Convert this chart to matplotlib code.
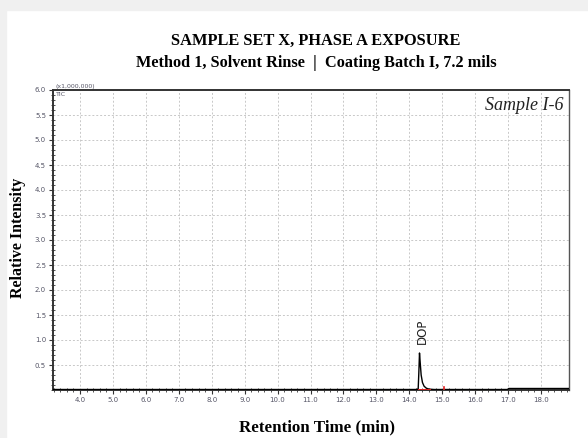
import matplotlib
matplotlib.use("Agg")
import matplotlib.pyplot as plt
from matplotlib.ticker import MultipleLocator, FormatStrFormatter
from matplotlib.patches import Rectangle

# ---- data ----
time_min = [3.18, 14.20, 14.27, 14.29, 14.31, 14.33, 14.36, 14.40, 14.45, 14.52, 14.60, 14.75, 16.98, 17.02, 18.85]
intensity = [0.010, 0.010, 0.020, 0.350, 0.740, 0.560, 0.300, 0.150, 0.075, 0.035, 0.018, 0.010, 0.010, 0.030, 0.030]
integ_time = [14.28, 14.62]
integ_level = [0.010, 0.010]
marker_time = [15.05, 15.05]
marker_level = [0.0, 0.07]
peak_name = "DOP"
peak_time = 14.33
peak_top = 0.74
x_ticks = [4.0, 5.0, 6.0, 7.0, 8.0, 9.0, 10.0, 11.0, 12.0, 13.0, 14.0, 15.0, 16.0, 17.0, 18.0]
y_ticks = [0.5, 1.0, 1.5, 2.0, 2.5, 3.0, 3.5, 4.0, 4.5, 5.0, 5.5, 6.0]

W, H = 588, 438
fig = plt.figure(figsize=(W / 100, H / 100), dpi=100)
fig.patch.set_facecolor("white")
# light gray frame on left and top
fig.add_artist(Rectangle((0, 0), 6 / W, 1, transform=fig.transFigure, color="#f0f0f0", zorder=-5))
fig.add_artist(Rectangle((0, 1 - 10 / H), 1, 10 / H, transform=fig.transFigure, color="#f0f0f0", zorder=-5))

ax = fig.add_axes([53 / W, 1 - 390 / H, (569 - 53) / W, (390 - 90) / H])
ax.set_xlim(3.18, 18.85)
ax.set_ylim(0, 6.0)

ax.plot(time_min, intensity, color="black", lw=1.0, zorder=3)
ax.plot(integ_time, integ_level, color="#e02020", lw=1.4, zorder=4)
ax.plot(marker_time, marker_level, color="#e02020", lw=1.2, zorder=4)

ax.text(peak_time + 0.07, peak_top + 0.18, peak_name, rotation=90, ha="center", va="bottom",
        fontsize=8.5, family="DejaVu Sans", color="#222222")

ax.set_xticks(x_ticks)
ax.set_yticks(y_ticks)
ax.xaxis.set_major_formatter(FormatStrFormatter("%.1f"))
ax.yaxis.set_major_formatter(FormatStrFormatter("%.1f"))
ax.xaxis.set_minor_locator(MultipleLocator(0.2))
ax.yaxis.set_minor_locator(MultipleLocator(0.1))
ax.tick_params(which="major", direction="out", length=3, width=0.8, color="#333333",
               labelsize=5, labelcolor="#555566", pad=2)
ax.tick_params(which="minor", direction="inout", length=2.5, width=0.6, color="#333333")

ax.grid(True, which="major", color="#c8c8c8", linestyle=(0, (2, 2)), lw=0.7)
ax.set_axisbelow(True)
for side in ["left", "bottom", "top"]:
    ax.spines[side].set_linewidth(1.4)
    ax.spines[side].set_color("#333333")
ax.spines["right"].set_linewidth(1.0)
ax.spines["right"].set_color("#555555")

ax.text(0.005, 1.004, "(x1,000,000)", transform=ax.transAxes, fontsize=4.5, color="#555566",
        ha="left", va="bottom")
ax.text(0.005, 0.995, "TIC", transform=ax.transAxes, fontsize=4.5, color="#555566",
        ha="left", va="top")

ax.text(0.99, 0.975, "Sample I-6", transform=ax.transAxes, ha="right", va="top",
        fontsize=13, style="italic", family="Liberation Serif", color="#222222")

fig.text(316 / W, 1 - 41 / H, "SAMPLE SET X, PHASE A EXPOSURE", ha="center", va="center",
         fontsize=11.8, fontweight="bold", family="Liberation Serif")
fig.text(316 / W, 1 - 63 / H, "Method 1, Solvent Rinse  |  Coating Batch I, 7.2 mils", ha="center",
         va="center", fontsize=11.7, fontweight="bold", family="Liberation Serif")
fig.text(18 / W, 1 - 238 / H, "Relative Intensity", rotation=90, ha="center", va="center",
         fontsize=11.5, fontweight="bold", family="Liberation Serif")
fig.text(317 / W, 1 - 427 / H, "Retention Time (min)", ha="center", va="center",
         fontsize=12.2, fontweight="bold", family="Liberation Serif")

fig.savefig("out.png", dpi=100)
